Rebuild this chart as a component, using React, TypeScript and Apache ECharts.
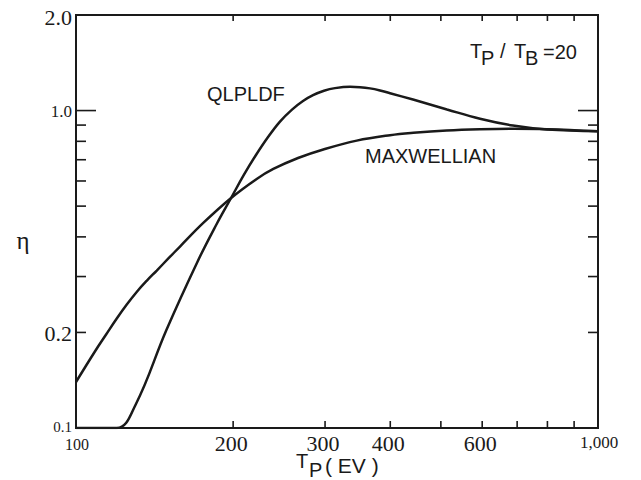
import React, { useEffect, useRef } from 'react';
import * as echarts from 'echarts';

const X_MIN = 100;
const X_MAX = 1000;
const Y_MIN = 0.1;
const Y_MAX = 2.0;

const qlpldfT = [100, 119.7, 130, 149, 171, 186, 198.2, 209.8, 221.2, 233.3, 245.9, 259.3, 272.2, 284.5, 298.6, 313.4, 334.9, 350, 365.8, 382.3, 399.6, 442.2, 513.7, 594.3, 687.2, 798.8, 1000];
const qlpldfEta = [0.1, 0.1, 0.1182, 0.2036, 0.3348, 0.4393, 0.5304, 0.6281, 0.7243, 0.8252, 0.9231, 1.0073, 1.072, 1.1182, 1.1546, 1.1766, 1.1885, 1.185, 1.1747, 1.157, 1.1344, 1.0831, 1.0081, 0.9423, 0.8968, 0.8713, 0.861];

const maxwellT = [100, 108.7, 114.2, 119.7, 125.1, 130.7, 136.6, 142.8, 150.3, 158.2, 175.3, 198.2, 221.9, 238.8, 266.3, 297.7, 345, 399.6, 442.9, 513, 594.3, 688.1, 797.7, 1000];
const maxwellEta = [0.1396, 0.1742, 0.197, 0.2213, 0.2449, 0.2683, 0.2909, 0.3134, 0.342, 0.3729, 0.4425, 0.5304, 0.609, 0.6546, 0.7089, 0.7541, 0.804, 0.8366, 0.8513, 0.8656, 0.8733, 0.8765, 0.8739, 0.861];

const xTickValues = [200, 300, 400, 500, 600, 700, 800, 900];
const xLabelValues = [100, 200, 300, 400, 600, 1000];
const xLabelTexts = ['100', '200', '300', '400', '600', '1,000'];

const yLongTicks = [1.0];
const yShortTicks = [0.2, 0.3, 0.4, 0.5, 0.6, 0.7, 0.8, 0.9];
const yLabelValues = [0.1, 0.2, 1.0, 2.0];
const yLabelTexts = ['0.1', '0.2', '1.0', '2.0'];

const SERIF = '"Liberation Serif", "Times New Roman", serif';
const SANS = '"Liberation Sans", Arial, sans-serif';
const INK = '#1a1a1a';
const LABEL_SIZE: Record<string, number> = { '100': 16, '1,000': 17, '0.1': 15, '1.0': 17 };
const X_LABEL_DY: Record<string, number> = { '100': 16, '1,000': 14.5 };
const Y_LABEL_DY: Record<string, number> = { '0.1': -1, '2.0': 2 };

export default function App() {
  const ref = useRef<HTMLDivElement>(null);

  useEffect(() => {
    if (!ref.current) return;
    const chart = echarts.init(ref.current, undefined, { renderer: 'svg' });

    const tickLine = (x1: number, y1: number, x2: number, y2: number) => ({
      type: 'line',
      shape: { x1, y1, x2, y2 },
      style: { stroke: INK, lineWidth: 1.6 },
    });

    const txt = (text: string, x: number, y: number, size: number, family = SANS) => ({
      type: 'text',
      x,
      y,
      style: { text, fontFamily: family, fontSize: size, fill: INK, align: 'left', verticalAlign: 'middle' },
    });

    const option: any = {
      animation: false,
      backgroundColor: '#fff',
      grid: {
        left: 76,
        top: 15,
        width: 522,
        height: 413,
        show: true,
        borderColor: INK,
        borderWidth: 2,
        backgroundColor: 'transparent',
      },
      xAxis: {
        type: 'log',
        logBase: 10,
        min: X_MIN,
        max: X_MAX,
        axisLine: { show: false },
        axisTick: { show: false },
        axisLabel: { show: false },
        splitLine: { show: false },
      },
      yAxis: {
        type: 'log',
        logBase: 10,
        min: Y_MIN,
        max: Y_MAX,
        axisLine: { show: false },
        axisTick: { show: false },
        axisLabel: { show: false },
        splitLine: { show: false },
      },
      series: [
        {
          name: 'QLPLDF',
          type: 'line',
          data: qlpldfT.map((t, i) => [t, qlpldfEta[i]]),
          showSymbol: false,
          symbol: 'none',
          smooth: 0.4,
          lineStyle: { color: INK, width: 2.5 },
          z: 3,
        },
        {
          name: 'MAXWELLIAN',
          type: 'line',
          data: maxwellT.map((t, i) => [t, maxwellEta[i]]),
          showSymbol: false,
          symbol: 'none',
          smooth: 0.4,
          lineStyle: { color: INK, width: 2.5 },
          z: 3,
        },
        {
          name: 'xTicks',
          type: 'custom',
          coordinateSystem: 'cartesian2d',
          silent: true,
          clip: false,
          data: xTickValues.map((v) => [v, Y_MIN]),
          renderItem: (params: any, api: any) => {
            const v = api.value(0);
            const b = api.coord([v, Y_MIN]);
            const t = api.coord([v, Y_MAX]);
            return {
              type: 'group',
              children: [tickLine(b[0], b[1], b[0], b[1] - 7), tickLine(t[0], t[1], t[0], t[1] + 6)],
            };
          },
        },
        {
          name: 'yTicks',
          type: 'custom',
          coordinateSystem: 'cartesian2d',
          silent: true,
          clip: false,
          data: [...yLongTicks.map((v) => [X_MIN, v, 20]), ...yShortTicks.map((v) => [X_MIN, v, 10])],
          renderItem: (params: any, api: any) => {
            const v = api.value(1);
            const len = api.value(2);
            const l = api.coord([X_MIN, v]);
            const r = api.coord([X_MAX, v]);
            return {
              type: 'group',
              children: [tickLine(l[0], l[1], l[0] + len, l[1]), tickLine(r[0], r[1], r[0] - len, r[1])],
            };
          },
        },
        {
          name: 'xLabels',
          type: 'custom',
          coordinateSystem: 'cartesian2d',
          silent: true,
          clip: false,
          data: xLabelValues.map((v) => [v, Y_MIN]),
          renderItem: (params: any, api: any) => {
            const v = api.value(0);
            const p = api.coord([v, Y_MIN]);
            const text = xLabelTexts[params.dataIndex];
            const size = LABEL_SIZE[text] || 22;
            const dx = LABEL_SIZE[text] ? 1 : -2;
            const dy = X_LABEL_DY[text] ?? 15.5;
            return {
              type: 'text',
              x: p[0] + dx,
              y: p[1] + dy,
              style: {
                text,
                fill: INK,
                fontFamily: SERIF,
                fontSize: size,
                align: 'center',
                verticalAlign: 'middle',
              },
            };
          },
        },
        {
          name: 'yLabels',
          type: 'custom',
          coordinateSystem: 'cartesian2d',
          silent: true,
          clip: false,
          data: yLabelValues.map((v) => [X_MIN, v]),
          renderItem: (params: any, api: any) => {
            const v = api.value(1);
            const p = api.coord([X_MIN, v]);
            const text = yLabelTexts[params.dataIndex];
            const size = LABEL_SIZE[text] || 22;
            const dy = Y_LABEL_DY[text] ?? 1;
            return {
              type: 'text',
              x: p[0] - 4,
              y: p[1] + dy,
              style: {
                text,
                fill: INK,
                fontFamily: SERIF,
                fontSize: size,
                align: 'right',
                verticalAlign: 'middle',
              },
            };
          },
        },
      ],
      graphic: [
        { type: 'text', left: 207, top: 84, style: { text: 'QLPLDF', fontFamily: SANS, fontSize: 20, fill: INK } },
        { type: 'text', left: 365, top: 146, style: { text: 'MAXWELLIAN', fontFamily: SANS, fontSize: 20, fill: INK } },
        txt('T', 470, 50.5, 20),
        txt('P', 481, 57.5, 20),
        txt('/', 500, 51, 20),
        txt('T', 514, 50.5, 20),
        txt('B', 525, 57.5, 20),
        txt('=20', 543, 51.5, 20),
        txt('T', 296, 461, 20),
        txt('P', 309, 470, 20),
        txt('( EV )', 325, 465, 21),
        {
          type: 'text',
          x: 23,
          y: 240,
          style: { text: 'η', fontFamily: SERIF, fontSize: 25, fill: INK, align: 'center', verticalAlign: 'middle' },
        },
      ],
    };

    chart.setOption(option);
    return () => chart.dispose();
  }, []);

  return (
    <div
      ref={ref}
      style={{ position: 'absolute', left: 0, top: 0, width: 641, height: 480, background: '#fff' }}
    />
  );
}
